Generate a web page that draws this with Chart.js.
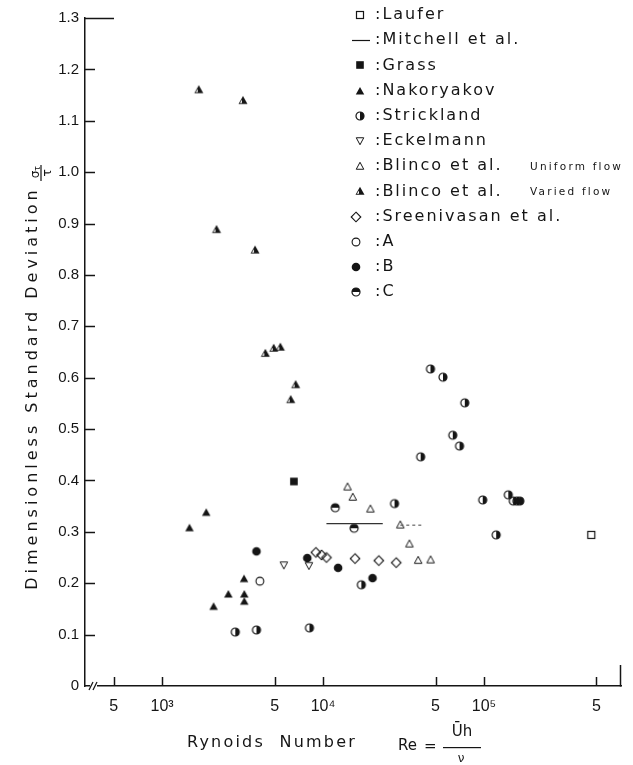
<!DOCTYPE html>
<html>
<head>
<meta charset="utf-8">
<script src="https://cdn.jsdelivr.net/npm/chart.js@4.4.1/dist/chart.umd.min.js"></script>
<style>
html,body{margin:0;padding:0;background:#fff;}
#wrap{width:633px;height:765px;position:relative;}
</style>
</head>
<body>
<div id="wrap"><canvas id="c" width="633" height="765"></canvas></div>
<script>
// ---------- data ----------
const xTickValues = [500, 1000, 5000, 10000, 50000, 100000, 500000];
const xTickLabels = ['5', '10³', '5', '10⁴', '5', '10⁵', '5'];
const yTickValues = [0, 0.1, 0.2, 0.3, 0.4, 0.5, 0.6, 0.7, 0.8, 0.9, 1.0, 1.1, 1.2, 1.3];
const yTickLabels = ['0', '0.1', '0.2', '0.3', '0.4', '0.5', '0.6', '0.7', '0.8', '0.9', '1.0', '1.1', '1.2', '1.3'];

const lauferRe = [464000];
const lauferSD = [0.294];
const mitchellRe = [10500, 23500];
const mitchellSD = [0.316, 0.316];
const mitchell2Re = [30200, 41200];
const mitchell2SD = [0.313, 0.313];
const grassRe = [6590];
const grassSD = [0.398];
const nakoryakovRe = [1880, 1480, 3230, 2580, 3240, 3240, 2090];
const nakoryakovSD = [0.338, 0.308, 0.209, 0.179, 0.179, 0.165, 0.155];
const stricklandRe = [2850, 3860, 8240, 17300, 27800, 46500, 55600, 76000, 64000, 70500, 40400, 98200, 141600, 152000, 160000, 167000, 119000];
const stricklandSD = [0.105, 0.109, 0.113, 0.197, 0.355, 0.617, 0.601, 0.551, 0.488, 0.467, 0.446, 0.362, 0.372, 0.360, 0.360, 0.360, 0.294];
const eckelmannRe = [5710, 8170];
const eckelmannSD = [0.235, 0.234];
const blincoUniformRe = [14200, 15300, 19700, 30200, 34400, 39000, 46600];
const blincoUniformSD = [0.388, 0.368, 0.345, 0.314, 0.277, 0.245, 0.246];
const blincoVariedRe = [1690, 3180, 2180, 3780, 4380, 4940, 5430, 6760, 6300];
const blincoVariedSD = [1.161, 1.140, 0.889, 0.849, 0.648, 0.658, 0.660, 0.587, 0.558];
const sreenivasanRe = [9020, 9790, 10500, 15800, 22200, 28500];
const sreenivasanSD = [0.260, 0.255, 0.250, 0.248, 0.244, 0.240];
const caseARe = [4050];
const caseASD = [0.204];
const caseBRe = [3860, 7980, 12400, 20300];
const caseBSD = [0.262, 0.249, 0.230, 0.210];
const caseCRe = [11900, 15600];
const caseCSD = [0.347, 0.307];

// axis range (Reynolds number at the two ends of the drawn axis)
const xAxisMin = 332;
const xAxisMax = 710000;

// ---------- styling ----------
const INK = '#151515';
const FONT = '"DejaVu Sans", "Liberation Sans", sans-serif';
const TICKFONT = '"Liberation Sans", Arial, sans-serif';

function makeMarker(kind) {
  const S = 14, m = 7;
  const c = document.createElement('canvas');
  c.width = S; c.height = S;
  const g = c.getContext('2d');
  g.strokeStyle = INK; g.fillStyle = INK; g.lineWidth = 1.2;
  const tri = (h, w, down) => {
    g.beginPath();
    if (!down) { g.moveTo(m, m - h / 2 - 0.5); g.lineTo(m + w / 2, m + h / 2); g.lineTo(m - w / 2, m + h / 2); }
    else { g.moveTo(m, m + h / 2 + 0.5); g.lineTo(m + w / 2, m - h / 2); g.lineTo(m - w / 2, m - h / 2); }
    g.closePath();
  };
  switch (kind) {
    case 'openSquare': g.strokeRect(m - 3.5, m - 3.5, 7, 7); break;
    case 'filledSquare': g.fillRect(m - 3.8, m - 3.8, 7.6, 7.6); break;
    case 'filledTri': tri(7, 8.5, false); g.fill(); break;
    case 'openTri': g.lineWidth = 1; tri(6.5, 7.5, false); g.stroke(); break;
    case 'downTri': g.lineWidth = 1; tri(6.5, 7.5, true); g.stroke(); break;
    case 'halfTri':
      tri(7.5, 9, false); g.fill();
      g.fillStyle = '#fff';
      g.beginPath(); g.moveTo(m - 1, m - 0.5); g.lineTo(m - 3.2, m + 2.8); g.lineTo(m - 1, m + 2.8); g.closePath(); g.fill();
      break;
    case 'diamond':
      g.lineWidth = 1.1;
      g.beginPath(); g.moveTo(m, m - 4.8); g.lineTo(m + 4.8, m); g.lineTo(m, m + 4.8); g.lineTo(m - 4.8, m); g.closePath(); g.stroke();
      break;
    case 'openCircle': g.lineWidth = 1.1; g.beginPath(); g.arc(m, m, 3.9, 0, Math.PI * 2); g.stroke(); break;
    case 'filledCircle': g.beginPath(); g.arc(m, m, 4.3, 0, Math.PI * 2); g.fill(); break;
    case 'halfRight':
      g.beginPath(); g.arc(m, m, 4, -Math.PI / 2, Math.PI / 2); g.closePath(); g.fill();
      g.beginPath(); g.arc(m, m, 4, 0, Math.PI * 2); g.stroke();
      break;
    case 'halfTop':
      g.beginPath(); g.arc(m, m, 4, Math.PI, Math.PI * 2); g.closePath(); g.fill();
      g.beginPath(); g.arc(m, m, 4, 0, Math.PI * 2); g.stroke();
      break;
  }
  return c;
}

const pts = (xs, ys) => xs.map((x, i) => ({ x: x, y: ys[i] }));

function scatterSet(label, xs, ys, kind, note) {
  return {
    type: 'scatter', label: label, data: pts(xs, ys),
    pointStyle: makeMarker(kind), pointRadius: 5, pointHoverRadius: 5,
    legendKind: kind, legendNote: note || '', inLegend: true
  };
}

const datasets = [
  scatterSet('Laufer', lauferRe, lauferSD, 'openSquare'),
  { type: 'line', label: 'Mitchell et al.', data: pts(mitchellRe, mitchellSD), showLine: true,
    borderColor: '#333', borderWidth: 1.3, pointRadius: 0, fill: false, legendKind: 'line', inLegend: true },
  { type: 'line', label: 'Mitchell et al. (2)', data: pts(mitchell2Re, mitchell2SD), showLine: true,
    borderColor: '#555', borderWidth: 1.1, borderDash: [3, 3], pointRadius: 0, fill: false, inLegend: false },
  scatterSet('Grass', grassRe, grassSD, 'filledSquare'),
  scatterSet('Nakoryakov', nakoryakovRe, nakoryakovSD, 'filledTri'),
  scatterSet('Strickland', stricklandRe, stricklandSD, 'halfRight'),
  scatterSet('Eckelmann', eckelmannRe, eckelmannSD, 'downTri'),
  scatterSet('Blinco et al.', blincoUniformRe, blincoUniformSD, 'openTri', 'Uniform flow'),
  scatterSet('Blinco et al.', blincoVariedRe, blincoVariedSD, 'halfTri', 'Varied flow'),
  scatterSet('Sreenivasan et al.', sreenivasanRe, sreenivasanSD, 'diamond'),
  scatterSet('A', caseARe, caseASD, 'openCircle'),
  scatterSet('B', caseBRe, caseBSD, 'filledCircle'),
  scatterSet('C', caseCRe, caseCSD, 'halfTop')
];

function setSpacing(ctx, px) {
  if ('letterSpacing' in ctx) ctx.letterSpacing = px + 'px';
}

const whiteBg = {
  id: 'whiteBg',
  beforeDraw(chart) {
    const { ctx, width, height } = chart;
    ctx.save(); ctx.fillStyle = '#fff'; ctx.fillRect(0, 0, width, height); ctx.restore();
  }
};

const decor = {
  id: 'decor',
  afterDraw(chart) {
    const { ctx, chartArea: a, scales } = chart;
    const x = scales.x, y = scales.y;
    ctx.save();
    ctx.strokeStyle = INK; ctx.lineWidth = 1.5;
    // inward y ticks
    yTickValues.forEach(v => {
      if (v === 0) return;
      const py = Math.round(y.getPixelForValue(v)) + 0.5;
      const len = (v === yTickValues[yTickValues.length - 1]) ? 29 : 10;
      ctx.beginPath(); ctx.moveTo(a.left, py); ctx.lineTo(a.left + len, py); ctx.stroke();
    });
    // inward x ticks
    xTickValues.forEach(v => {
      const px = Math.round(x.getPixelForValue(v)) + 0.5;
      ctx.beginPath(); ctx.moveTo(px, a.bottom); ctx.lineTo(px, a.bottom - 9); ctx.stroke();
    });
    // right end mark
    ctx.beginPath(); ctx.moveTo(a.right - 0.5, a.bottom + 0.5); ctx.lineTo(a.right - 0.5, a.bottom - 21); ctx.stroke();
    // axis break
    ctx.fillStyle = '#fff';
    ctx.fillRect(a.left + 5, a.bottom - 3, 7, 6);
    ctx.lineWidth = 1.2;
    [a.left + 6, a.left + 10].forEach(bx => {
      ctx.beginPath(); ctx.moveTo(bx - 2, a.bottom + 4); ctx.lineTo(bx + 2, a.bottom - 4); ctx.stroke();
    });
    ctx.restore();

    // ---- axis titles ----
    ctx.save();
    ctx.fillStyle = INK;
    // y title
    ctx.save();
    ctx.translate(33, 388); ctx.rotate(-Math.PI / 2);
    ctx.font = '16px ' + FONT; ctx.textAlign = 'center'; ctx.textBaseline = 'middle';
    setSpacing(ctx, 4);
    ctx.fillText('Dimensionless Standard Deviation', 0, 0);
    setSpacing(ctx, 0);
    ctx.restore();
    // y fraction sigma_tau / tau
    ctx.save();
    ctx.translate(41, 173); ctx.rotate(-Math.PI / 2);
    ctx.textAlign = 'center'; ctx.textBaseline = 'alphabetic';
    ctx.font = '12px ' + FONT; ctx.fillText('σ', -1.5, -2.5);
    ctx.font = '8px ' + FONT; ctx.fillText('τ', 4.5, -1);
    ctx.fillRect(-8, -0.6, 16, 1.2);
    ctx.font = '12px ' + FONT; ctx.fillText('τ', 0, 10);
    ctx.restore();
    // x title
    ctx.font = '16px ' + FONT; ctx.textAlign = 'left'; ctx.textBaseline = 'middle';
    setSpacing(ctx, 2.2);
    ctx.fillText('Rynoids  Number', 187, 743);
    setSpacing(ctx, 0);
    ctx.font = '15px ' + FONT;
    ctx.fillText('Re', 398, 746);
    ctx.fillText('=', 424, 747);
    ctx.textAlign = 'center';
    ctx.font = '15px ' + FONT;
    ctx.fillText('Ūh', 462, 732);
    ctx.fillRect(443, 747, 38, 1.2);
    ctx.font = '12px ' + FONT;
    ctx.fillText('ν', 461, 759);
    ctx.restore();

    // ---- legend ----
    ctx.save();
    ctx.fillStyle = INK; ctx.strokeStyle = INK;
    const top = 15, step = 25.2;
    let row = 0;
    chart.data.datasets.forEach(ds => {
      if (!ds.inLegend) return;
      const yy = top + row * step;
      const mx = row >= 8 ? 356 : 360;
      if (ds.legendKind === 'line') {
        ctx.lineWidth = 1.2;
        ctx.beginPath(); ctx.moveTo(352, Math.round(yy) + 0.5); ctx.lineTo(370, Math.round(yy) + 0.5); ctx.stroke();
      } else {
        const img = ds.pointStyle;
        ctx.drawImage(img, Math.round(mx - img.width / 2), Math.round(yy - img.height / 2));
      }
      ctx.font = '16px ' + FONT; ctx.textAlign = 'left'; ctx.textBaseline = 'middle';
      setSpacing(ctx, 2.0);
      ctx.fillText(':' + ds.label, 375, yy);
      if (ds.legendNote) {
        ctx.font = '10.5px ' + FONT;
        setSpacing(ctx, 2.2);
        ctx.fillText(ds.legendNote, 530, yy + 1);
      }
      setSpacing(ctx, 0);
      row++;
    });
    ctx.restore();
  }
};

const chart = new Chart(document.getElementById('c'), {
  type: 'scatter',
  data: { datasets: datasets },
  options: {
    responsive: false,
    animation: false,
    events: [],
    layout: { padding: { left: 0, right: 12, top: 18, bottom: 0 } },
    plugins: { legend: { display: false }, tooltip: { enabled: false }, title: { display: false } },
    scales: {
      x: {
        type: 'logarithmic', min: xAxisMin, max: xAxisMax,
        afterBuildTicks: s => { s.ticks = xTickValues.map(v => ({ value: v })); },
        afterFit: s => { s.height = 79; },
        ticks: {
          autoSkip: false, maxRotation: 0, minRotation: 0, padding: 11, color: INK,
          font: { family: TICKFONT, size: 16 },
          callback: (v, i) => xTickLabels[i]
        },
        grid: { display: false, drawTicks: false },
        border: { display: true, color: INK, width: 1.5 }
      },
      y: {
        type: 'linear', min: 0, max: 1.3,
        afterBuildTicks: s => { s.ticks = yTickValues.map(v => ({ value: v })); },
        afterFit: s => { s.width = 85; },
        ticks: {
          padding: 6, color: INK, font: { family: TICKFONT, size: 15 },
          callback: (v, i) => yTickLabels[i]
        },
        grid: { display: false, drawTicks: false },
        border: { display: true, color: INK, width: 1.5 }
      }
    }
  },
  plugins: [whiteBg, decor]
});
</script>
</body>
</html>
